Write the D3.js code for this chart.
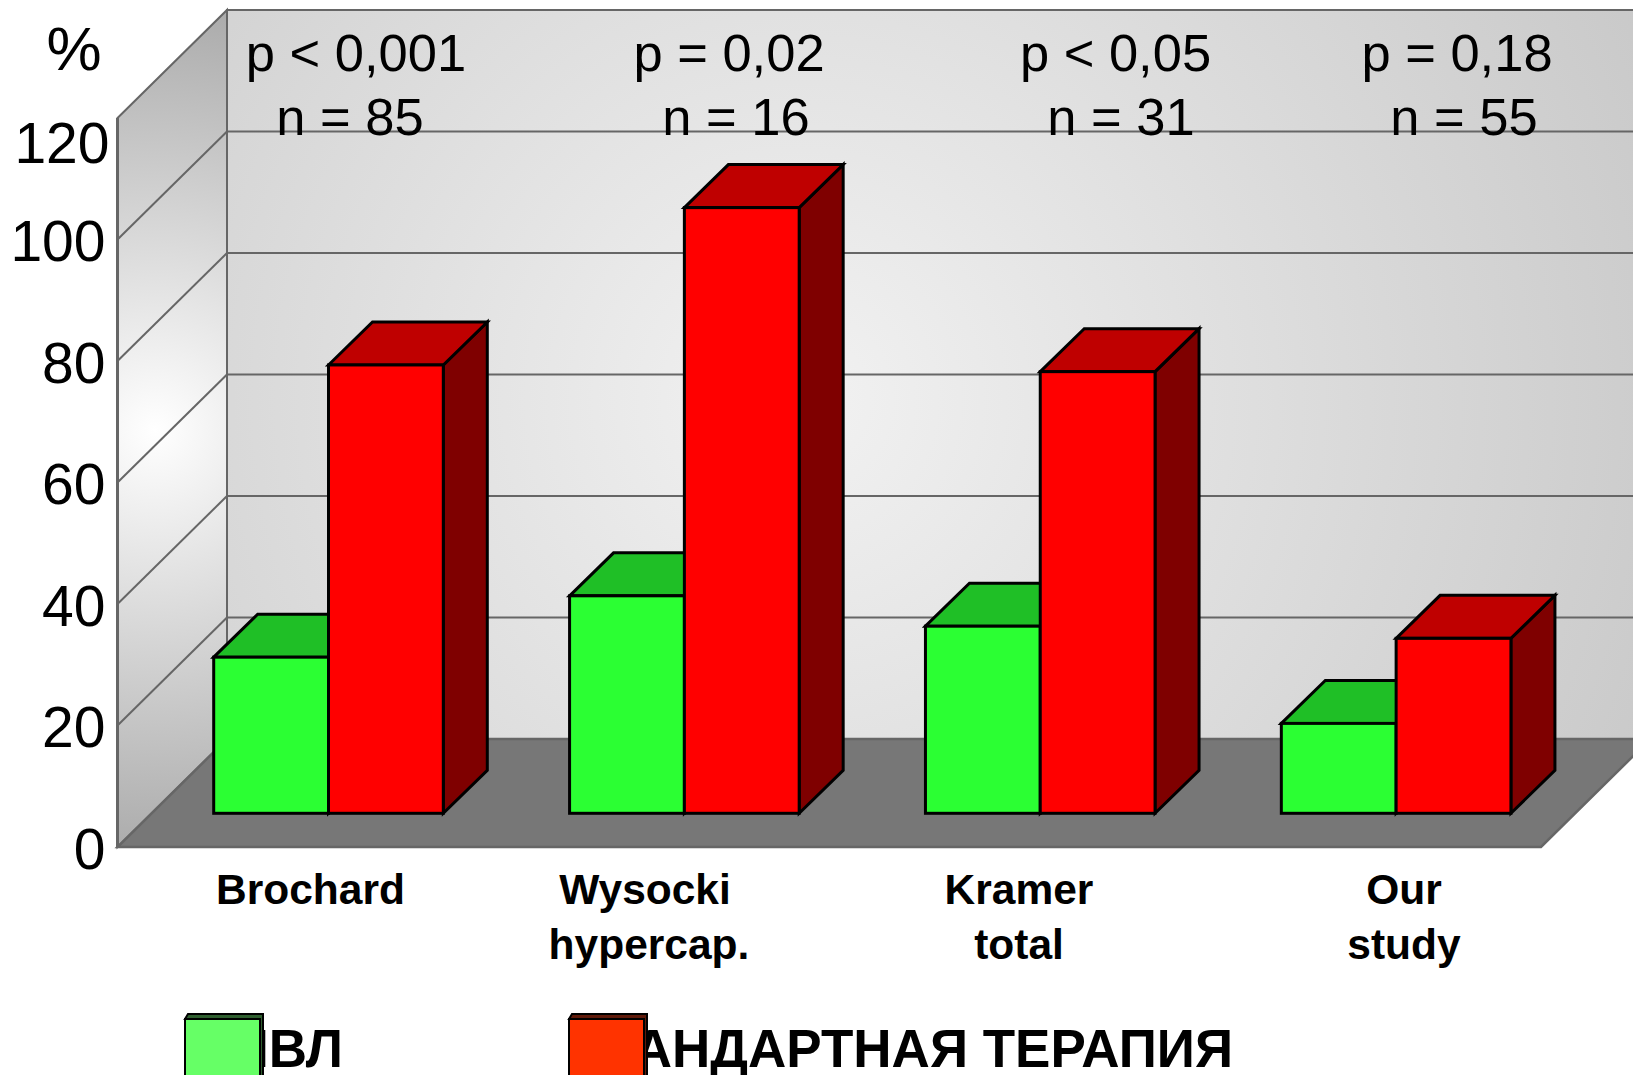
<!DOCTYPE html>
<html>
<head>
<meta charset="utf-8">
<script src="https://cdn.jsdelivr.net/npm/d3@7"></script>
<style>
  html, body { margin: 0; padding: 0; background: #fff; overflow: hidden; }
  text { font-family: "Liberation Sans", Arial, sans-serif; fill: #000; }
</style>
</head>
<body>
<div id="chart"></div>
<script>
// values
const categories = ["Brochard", "Wysocki", "Kramer", "Our"];
const categoryLine2 = ["", "hypercap.", "total", "study"];
const series = ["НИВЛ", "СТАНДАРТНАЯ ТЕРАПИЯ"];
const niv = [25.7, 35.8, 30.8, 14.8];
const standard = [73.8, 99.7, 72.7, 28.8];
const pLabels = ["p < 0,001", "p = 0,02", "p < 0,05", "p = 0,18"];
const nLabels = ["n = 85", "n = 16", "n = 31", "n = 55"];
const yTicks = [0, 20, 40, 60, 80, 100, 120];

const width = 1633, height = 1075;
const front = { left: 117.5, right: 1541, top: 118, bottom: 847 };
const depth = { x: 109.5, y: -108 };
const barDepth = { x: 44, y: -43 };
const barShift = 33.7; // bars stand a bit behind the front edge of the floor
const barOffset = 96.2, barWidth = 114.8;

// label boxes are placed by hand in the original slide
const pX = [356, 729, 1115.5, 1457];
const nX = [350, 736, 1121, 1464];
const catX = [310.5, 645, 1019, 1404];
const catX2 = [310, 649, 1019, 1404];

const svg = d3.select("#chart").append("svg")
  .attr("width", width).attr("height", height)
  .style("display", "block");

const y = d3.scaleLinear().domain([0, 120]).range([front.bottom, front.top]);
const yBar = d3.scaleLinear().domain([0, 120]).range([front.bottom - barShift, front.top - barShift]);
const x = d3.scaleBand().domain(categories).range([front.left, front.right]);
const xSeries = d3.scaleBand().domain(series).range([0, barWidth * 2]);

// gradients
const defs = svg.append("defs");
const backGrad = defs.append("radialGradient").attr("id", "backGrad")
  .attr("gradientUnits", "userSpaceOnUse")
  .attr("cx", 800).attr("cy", 400).attr("r", 1000);
backGrad.append("stop").attr("offset", "0%").attr("stop-color", "#f2f2f2");
backGrad.append("stop").attr("offset", "100%").attr("stop-color", "#c6c6c6");
const wallGrad = defs.append("radialGradient").attr("id", "wallGrad")
  .attr("gradientUnits", "userSpaceOnUse")
  .attr("cx", 155).attr("cy", 430).attr("r", 430);
wallGrad.append("stop").attr("offset", "0%").attr("stop-color", "#ffffff");
wallGrad.append("stop").attr("offset", "100%").attr("stop-color", "#aaaaaa");

const poly = (pts) => pts.map((p) => p.join(",")).join(" ");
const wallLine = "#666666";

// back wall
const plot = svg.append("g").attr("class", "plot");
plot.append("rect")
  .attr("x", front.left + depth.x).attr("y", y(120) + depth.y)
  .attr("width", width).attr("height", y(0) - y(120))
  .attr("fill", "url(#backGrad)")
  .attr("stroke", wallLine).attr("stroke-width", 2);

// left wall
plot.append("polygon")
  .attr("points", poly([
    [front.left, y(120)],
    [front.left + depth.x, y(120) + depth.y],
    [front.left + depth.x, y(0) + depth.y],
    [front.left, y(0)],
  ]))
  .attr("fill", "url(#wallGrad)")
  .attr("stroke", wallLine).attr("stroke-width", 2);

// grid lines, along the back then along the side
plot.append("g").selectAll("line.back")
  .data(yTicks.slice(1, -1).concat([120]))
  .join("line")
  .attr("x1", front.left + depth.x).attr("x2", width)
  .attr("y1", (d) => y(d) + depth.y).attr("y2", (d) => y(d) + depth.y)
  .attr("stroke", wallLine).attr("stroke-width", 2);
plot.append("g").selectAll("line.side")
  .data(yTicks.slice(1, -1))
  .join("line")
  .attr("x1", front.left).attr("x2", front.left + depth.x)
  .attr("y1", (d) => y(d)).attr("y2", (d) => y(d) + depth.y)
  .attr("stroke", wallLine).attr("stroke-width", 2);

// floor
plot.append("polygon")
  .attr("points", poly([
    [front.left, y(0)],
    [front.right, y(0)],
    [front.right + depth.x, y(0) + depth.y],
    [front.left + depth.x, y(0) + depth.y],
  ]))
  .attr("fill", "#777777")
  .attr("stroke", "#666666").attr("stroke-width", 2.5);

// left edge drawn last so the floor does not cover it
plot.append("line")
  .attr("x1", front.left).attr("x2", front.left)
  .attr("y1", y(120)).attr("y2", y(0))
  .attr("stroke", wallLine).attr("stroke-width", 3);

// bars
const barData = categories.flatMap((c, i) => [
  { c, s: series[0], v: niv[i], front: "#2bff33", top: "#1fbf26", side: "#157f19" },
  { c, s: series[1], v: standard[i], front: "#ff0000", top: "#bf0000", side: "#7f0000" },
]);
const bars = svg.append("g").attr("class", "bars")
  .attr("stroke", "#000").attr("stroke-width", 3).attr("stroke-linejoin", "miter")
  .selectAll("g").data(barData).join("g");

const bx0 = (d) => x(d.c) + barOffset + xSeries(d.s);
const bx1 = (d) => bx0(d) + xSeries.bandwidth();

bars.append("polygon")
  .attr("fill", (d) => d.side)
  .attr("points", (d) => poly([
    [bx1(d), yBar(d.v)],
    [bx1(d) + barDepth.x, yBar(d.v) + barDepth.y],
    [bx1(d) + barDepth.x, yBar(0) + barDepth.y],
    [bx1(d), yBar(0)],
  ]));
bars.append("polygon")
  .attr("fill", (d) => d.top)
  .attr("points", (d) => poly([
    [bx0(d), yBar(d.v)],
    [bx0(d) + barDepth.x, yBar(d.v) + barDepth.y],
    [bx1(d) + barDepth.x, yBar(d.v) + barDepth.y],
    [bx1(d), yBar(d.v)],
  ]));
bars.append("rect")
  .attr("fill", (d) => d.front)
  .attr("x", bx0)
  .attr("y", (d) => yBar(d.v))
  .attr("width", xSeries.bandwidth())
  .attr("height", (d) => yBar(0) - yBar(d.v));

// y axis labels
const axis = svg.append("g")
  .attr("transform", `translate(${front.left - 12}, 3)`)
  .call(d3.axisLeft(y).tickValues(yTicks).tickSize(0).tickPadding(0));
axis.select(".domain").remove();
axis.selectAll("text")
  .attr("font-size", 57)
  .attr("fill", "#000")
  .style("font-family", '"Liberation Sans", Arial, sans-serif');
// the 120 label sits lower and further right in the original
axis.selectAll(".tick").filter((d) => d === 120)
  .select("text").attr("dx", 4).attr("dy", "0.72em");

svg.append("text").text("%")
  .attr("x", 74).attr("y", 70)
  .attr("text-anchor", "middle").attr("font-size", 62);

// p and n values
const stats = svg.append("g").attr("font-size", 52.5).attr("text-anchor", "middle");
stats.selectAll("text.p").data(pLabels).join("text")
  .attr("class", "p")
  .attr("x", (d, i) => pX[i]).attr("y", 71).text((d) => d);
stats.selectAll("text.n").data(nLabels).join("text")
  .attr("class", "n")
  .attr("x", (d, i) => nX[i]).attr("y", 135).text((d) => d);

// category labels
const cats = svg.append("g").attr("font-size", 42.5).attr("font-weight", "bold").attr("text-anchor", "middle");
cats.selectAll("text.c1").data(categories).join("text")
  .attr("class", "c1")
  .attr("x", (d, i) => catX[i]).attr("y", 904).text((d) => d);
cats.selectAll("text.c2").data(categoryLine2).join("text")
  .attr("class", "c2")
  .attr("x", (d, i) => catX2[i]).attr("y", 959).text((d) => d);

// legend, the swatches sit on top of the start of each label as in the slide
const legendX = [185, 569];
const legendColor = ["#66ff66", "#ff3300"];
const legendDark = ["#2f5f2f", "#5f1a0a"];
const legend = svg.append("g").selectAll("g").data(series).join("g");
legend.append("text")
  .attr("x", (d, i) => (i === 0 ? 343 : 1233))
  .attr("y", 1067)
  .attr("text-anchor", "end")
  .attr("font-size", 53)
  .attr("font-weight", "bold")
  .text((d) => d);
legend.append("polygon")
  .attr("fill", (d, i) => legendDark[i])
  .attr("stroke", "#000").attr("stroke-width", 2)
  .attr("points", (d, i) => poly([
    [legendX[i], 1019],
    [legendX[i] + 3, 1014],
    [legendX[i] + 78, 1014],
    [legendX[i] + 78, 1080],
    [legendX[i] + 75, 1080],
    [legendX[i] + 75, 1019],
  ]));
legend.append("rect")
  .attr("x", (d, i) => legendX[i]).attr("y", 1019)
  .attr("width", 75).attr("height", 70)
  .attr("fill", (d, i) => legendColor[i])
  .attr("stroke", "#000").attr("stroke-width", 2);
</script>
</body>
</html>
